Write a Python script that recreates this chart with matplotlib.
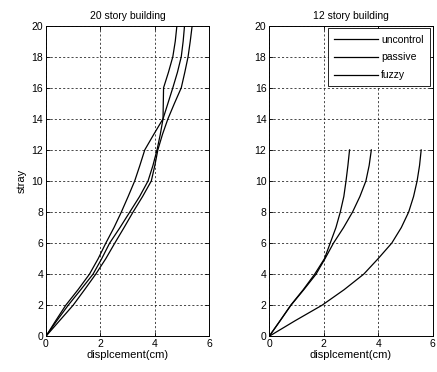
import numpy as np
import matplotlib
matplotlib.use("Agg")
import matplotlib.pyplot as plt

plt.rcParams['font.family'] = ['Liberation Sans', 'DejaVu Sans']
plt.rcParams['font.size'] = 7.5

# 20 story building
story20 = list(range(0, 21))
uncontrol20 = [0, 0.5, 1.0, 1.42, 1.83, 2.2, 2.53, 2.87, 3.2, 3.55, 3.87,
               4.0, 4.11, 4.28, 4.48, 4.72, 4.97, 5.1, 5.22, 5.3, 5.37]
passive20 = [0, 0.4, 0.82, 1.28, 1.73, 2.05, 2.34, 2.72, 3.08, 3.44, 3.75,
             3.93, 4.08, 4.2, 4.3, 4.48, 4.66, 4.83, 4.97, 5.04, 5.09]
fuzzy20 = [0, 0.36, 0.73, 1.18, 1.6, 1.92, 2.2, 2.5, 2.77, 3.02, 3.26,
           3.45, 3.63, 3.96, 4.3, 4.31, 4.32, 4.5, 4.66, 4.75, 4.81]

# 12 story building
story12 = list(range(0, 13))
uncontrol12 = [0, 0.95, 1.94, 2.75, 3.47, 4.0, 4.5, 4.85, 5.12, 5.3, 5.43, 5.52, 5.58]
passive12 = [0, 0.4, 0.8, 1.27, 1.72, 2.05, 2.36, 2.73, 3.06, 3.33, 3.55, 3.67, 3.75]
fuzzy12 = [0, 0.4, 0.79, 1.25, 1.67, 2.03, 2.24, 2.45, 2.61, 2.74, 2.82, 2.89, 2.95]

labels = ["uncontrol", "passive", "fuzzy"]

fig = plt.figure(figsize=(4.37, 3.72), dpi=100)
ax1 = fig.add_axes([0.105, 0.096, 0.374, 0.835])
ax2 = fig.add_axes([0.616, 0.096, 0.374, 0.835])

for ax, ys, series, title in [
    (ax1, story20, [uncontrol20, passive20, fuzzy20], "20 story building"),
    (ax2, story12, [uncontrol12, passive12, fuzzy12], "12 story building"),
]:
    for xs, lab in zip(series, labels):
        ax.plot(xs, ys, color="black", lw=0.9, label=lab)
    ax.set_xlim(0, 6)
    ax.set_ylim(0, 20)
    ax.set_xticks([0, 2, 4, 6])
    ax.set_yticks(np.arange(0, 21, 2))
    ax.grid(True, color="black", linestyle=(0, (3, 3)), linewidth=0.5)
    ax.tick_params(direction="in", length=3, width=0.6, top=True, right=True, pad=2)
    for s in ax.spines.values():
        s.set_linewidth(0.7)
    ax.set_title(title, fontsize=7.5, pad=5)
    ax.set_xlabel("displcement(cm)", fontsize=8, labelpad=1)

ax1.set_ylabel("stray", fontsize=8, labelpad=3)

leg = ax2.legend(loc="upper right", fontsize=7.5, handlelength=4.2,
                 fancybox=False, edgecolor="black", framealpha=1,
                 borderpad=0.6, labelspacing=0.75, handletextpad=0.3,
                 borderaxespad=0.25)
leg.get_frame().set_linewidth(0.6)

fig.savefig("out.png", dpi=100)
